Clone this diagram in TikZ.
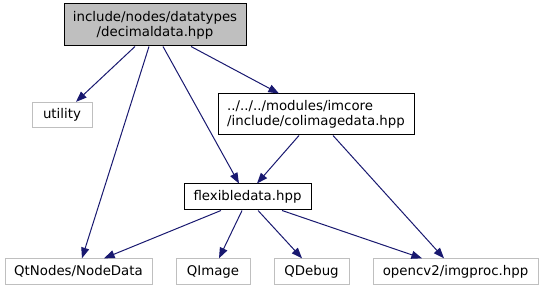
\documentclass[tikz,border=0pt]{standalone}
\usepackage{fontspec}
\setmainfont{DejaVu Sans}
\usetikzlibrary{arrows.meta}
\definecolor{edgeblue}{HTML}{191970}
\definecolor{extgray}{HTML}{BFBFBF}
\tikzset{
  every node/.style={font=\fontsize{10pt}{11.5pt}\selectfont, inner sep=0pt},
  filebox/.style={draw=black, line width=0.75pt, fill=white, minimum height=19.5pt},
  mainbox/.style={filebox, fill=extgray},
  extbox/.style={draw=extgray, line width=0.75pt, fill=white, minimum height=19pt},
  dep/.style={draw=edgeblue, line width=0.75pt,
    -{Triangle[length=8pt,width=6pt]}, edgeblue},
}
\begin{document}
\begin{tikzpicture}[x=0.75pt, y=-0.75pt]
  \useasboundingbox (0,0) rectangle (541,291);

  % header files of the project
  \node[mainbox, minimum width=136.5pt, minimum height=31.5pt, align=center] (dec) at (155,25)
    {include/nodes/datatypes\\/decimaldata.hpp};
  \node[filebox, minimum width=147pt, minimum height=30.75pt, align=left] (col) at (316,114.5)
    {../../../modules/imcore\\/include/colimagedata.hpp};
  \node[filebox, minimum width=95.25pt] (flex) at (247.5,197) {flexibledata.hpp};

  % external headers
  \node[extbox, minimum width=45pt] (util) at (62,115) {utility};
  \node[extbox, minimum width=110.25pt] (qtn) at (78.5,271.5) {QtNodes/NodeData};
  \node[extbox, minimum width=55.5pt] (qimg) at (213,271.5) {QImage};
  \node[extbox, minimum width=56.25pt] (qdbg) at (311.5,271.5) {QDebug};
  \node[extbox, minimum width=123.75pt] (cv) at (455.5,271.5) {opencv2/imgproc.hpp};

  % include dependencies
  \draw[dep] ([xshift=-15pt]dec.south) -- ([xshift=10.5pt]util.north);
  \draw[dep] ([xshift=-4.5pt]dec.south) -- ([xshift=2.6pt]qtn.north);
  \draw[dep] ([xshift=6pt]dec.south) -- ([xshift=-6.4pt]flex.north);
  \draw[dep] ([xshift=27pt]dec.south) -- ([xshift=-27.75pt]col.north);

  \draw[dep] ([xshift=-12.75pt]col.south) -- ([xshift=7.1pt]flex.north);
  \draw[dep] ([xshift=12.75pt]col.south) -- ([xshift=-8.6pt]cv.north);

  \draw[dep] ([xshift=-19.9pt]flex.south) -- ([xshift=19.1pt]qtn.north);
  \draw[dep] ([xshift=-4.1pt]flex.south) -- ([xshift=4.5pt]qimg.north);
  \draw[dep] ([xshift=7.9pt]flex.south) -- ([xshift=-7.1pt]qdbg.north);
  \draw[dep] ([xshift=25.9pt]flex.south) -- ([xshift=-25.1pt]cv.north);
\end{tikzpicture}
\end{document}
